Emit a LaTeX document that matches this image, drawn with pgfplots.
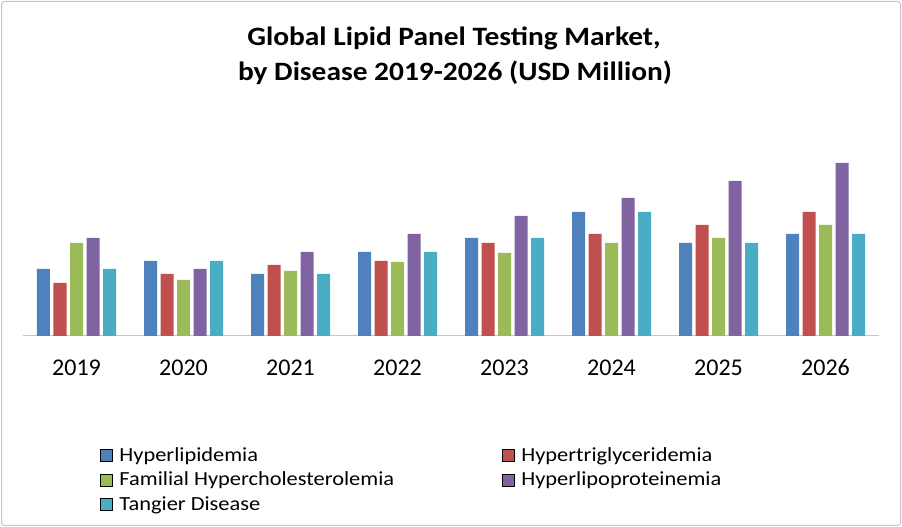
\documentclass[border=0pt]{standalone}
\usepackage{pgfplots}
\pgfplotsset{compat=1.18}
\usepackage{fontspec}
\setmainfont{Carlito}
\newfontfamily\titlefont[FakeStretch=1.11]{Carlito}
\newfontfamily\legendfont[FakeStretch=1.12]{Carlito}
\definecolor{cBlue}{HTML}{4F81BD}
\definecolor{cRed}{HTML}{C0504D}
\definecolor{cGreen}{HTML}{9BBB59}
\definecolor{cPurple}{HTML}{8064A2}
\definecolor{cCyan}{HTML}{4BACC6}
\begin{document}
\begin{tikzpicture}
\useasboundingbox (0,0) rectangle (902pt,527pt);
\draw[gray!45, line width=1pt, rounded corners=3pt] (1.5pt,1.5pt) rectangle (900.5pt,525.5pt);
\node[font=\titlefont\fontsize{26.5}{35}\selectfont\bfseries, anchor=base] at (454pt,481pt) {Global Lipid Panel Testing Market,};
\node[font=\titlefont\fontsize{26.5}{35}\selectfont\bfseries, anchor=base] at (455pt,446pt) {by Disease 2019-2026 (USD Million)};
\begin{axis}[
  at={(23pt,191pt)}, anchor=south west,
  scale only axis, width=856pt, height=200pt,
  xmin=-0.5, xmax=7.5, ymin=0, ymax=200,
  ybar=3.5pt, bar width=13pt,
  hide y axis,
  axis x line*=bottom,
  x axis line style={gray!45, line width=1pt, -},
  xtick={0,...,7},
  xticklabels={2019,2020,2021,2022,2023,2024,2025,2026},
  xtick style={draw=none},
  xticklabel style={font=\fontsize{24}{29}\selectfont, text height=16pt, text depth=0pt, yshift=-16pt},
  legend columns=2,
  legend cell align=left,
  legend image code/.code={\draw[#1] (0pt,-6pt) rectangle (12pt,6pt); \path (17pt,0pt);},
  legend style={draw=none, fill=none, inner sep=0pt,
    at={(axis description cs:0.09,-0.545)}, anchor=north west,
    font=\legendfont\fontsize{20}{24}\selectfont, row sep=5.5pt,
    cells={inner xsep=0pt},
    /tikz/every even column/.append style={column sep=106pt}},
]
\addplot[fill=cBlue, draw=none] coordinates {(0,67) (1,75) (2,62) (3,84) (4,98) (5,124) (6,93) (7,102)};
\addplot[fill=cRed, draw=none] coordinates {(0,53) (1,62) (2,71) (3,75) (4,93) (5,102) (6,111) (7,124)};
\addplot[fill=cGreen, draw=none] coordinates {(0,93) (1,56) (2,65) (3,74) (4,83) (5,93) (6,98) (7,111)};
\addplot[fill=cPurple, draw=none] coordinates {(0,98) (1,67) (2,84) (3,102) (4,120) (5,138) (6,155) (7,173)};
\addplot[fill=cCyan, draw=none] coordinates {(0,67) (1,75) (2,62) (3,84) (4,98) (5,124) (6,93) (7,102)};
\legend{Hyperlipidemia, Hypertriglyceridemia, Familial Hypercholesterolemia, Hyperlipoproteinemia, Tangier Disease}
\end{axis}
\end{tikzpicture}
\end{document}
